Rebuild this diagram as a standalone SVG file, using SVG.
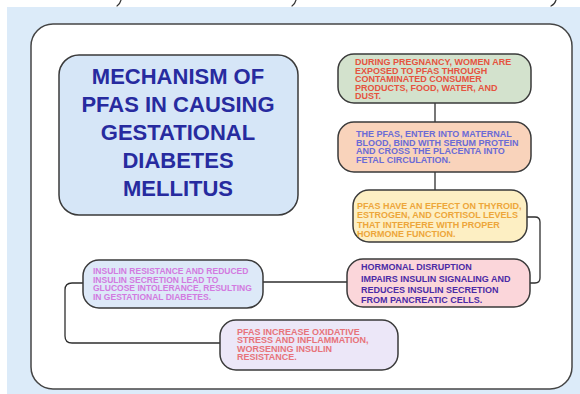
<svg xmlns="http://www.w3.org/2000/svg" width="580" height="394" viewBox="0 0 580 394">
<style>
.nd{stroke:#3a3a3a;stroke-width:1.5}
.t{font-family:"Liberation Sans",Arial,sans-serif;font-weight:bold;font-size:9px}
.ttl{font-family:"Liberation Sans",Arial,sans-serif;font-weight:bold;font-size:22px;fill:#272b9f;text-anchor:middle}
.cn{fill:none;stroke:#2e2e2e;stroke-width:1.3}
.mk{fill:none;stroke:#333;stroke-width:1.2;stroke-linecap:round}
</style>
<rect x="0" y="0" width="580" height="394" fill="#ffffff"/>
<rect x="7" y="7" width="573" height="387" fill="#dcebf9"/>
<g id="marks">
<path class="mk" d="M121 0 Q120 4 117 6"/>
<path class="mk" d="M296 0 Q295 4 292 6"/>
<path class="mk" d="M556 0 Q555 4 551 6"/>
</g>
<rect id="frame" x="31" y="24" width="541" height="365" rx="22" fill="#ffffff" stroke="#454545" stroke-width="1.5"/>
<g id="connectors">
<path class="cn" d="M435 103 V122"/>
<path class="cn" d="M435 172 V190"/>
<path class="cn" d="M527 217 H535 Q540 217 540 222 V278 Q540 283 535 283 H530"/>
<path class="cn" d="M347 282 H263"/>
<path class="cn" d="M83 283 H72 Q65 283 65 290 V336 Q65 343 72 343 H220"/>
</g>
<g id="title">
<rect class="nd" x="59" y="55" width="239" height="160" rx="20" fill="#d6e6f7"/>
<text class="ttl"><tspan x="178" y="84">MECHANISM OF</tspan><tspan x="178" y="112">PFAS IN CAUSING</tspan><tspan x="178" y="140">GESTATIONAL</tspan><tspan x="178" y="168">DIABETES</tspan><tspan x="178" y="196">MELLITUS</tspan></text>
</g>
<g id="n1">
<rect class="nd" x="338" y="54" width="193" height="49" rx="16" fill="#d3e2cd"/>
<text class="t" fill="#e5533f"><tspan x="355" y="65">DURING PREGNANCY, WOMEN ARE</tspan><tspan x="355" y="73.5">EXPOSED TO PFAS THROUGH</tspan><tspan x="355" y="82">CONTAMINATED CONSUMER</tspan><tspan x="355" y="90.5">PRODUCTS, FOOD, WATER, AND</tspan><tspan x="355" y="99">DUST.</tspan></text>
</g>
<g id="n2">
<rect class="nd" x="338" y="122" width="193" height="50" rx="16" fill="#f9d3bb"/>
<text class="t" fill="#6b6bd6"><tspan x="356" y="137">THE PFAS, ENTER INTO MATERNAL</tspan><tspan x="356" y="145.5">BLOOD, BIND WITH SERUM PROTEIN</tspan><tspan x="356" y="154">AND CROSS THE PLACENTA INTO</tspan><tspan x="356" y="162.5">FETAL CIRCULATION.</tspan></text>
</g>
<g id="n3">
<rect class="nd" x="353" y="190" width="174" height="52" rx="16" fill="#fdefc3"/>
<text class="t" fill="#eda63a"><tspan x="357" y="209">PFAS HAVE AN EFFECT ON THYROID,</tspan><tspan x="357" y="218">ESTROGEN, AND CORTISOL LEVELS</tspan><tspan x="357" y="227.5">THAT INTERFERE WITH PROPER</tspan><tspan x="357" y="236.5">HORMONE FUNCTION.</tspan></text>
</g>
<g id="n4">
<rect class="nd" x="347" y="259" width="183" height="48" rx="16" fill="#fbd6da"/>
<text class="t" fill="#4b2ba6"><tspan x="361" y="270">HORMONAL DISRUPTION</tspan><tspan x="361" y="281.5">IMPAIRS INSULIN SIGNALING AND</tspan><tspan x="361" y="292.5">REDUCES INSULIN SECRETION</tspan><tspan x="361" y="303">FROM PANCREATIC CELLS.</tspan></text>
</g>
<g id="n5">
<rect class="nd" x="83" y="260" width="180" height="48" rx="16" fill="#dde9f8"/>
<text class="t" fill="#d27ae0" style="font-size:8.5px"><tspan x="93" y="274">INSULIN RESISTANCE AND REDUCED</tspan><tspan x="93" y="282.5">INSULIN SECRETION LEAD TO</tspan><tspan x="93" y="291">GLUCOSE INTOLERANCE, RESULTING</tspan><tspan x="93" y="299.5">IN GESTATIONAL DIABETES.</tspan></text>
</g>
<g id="n6">
<rect class="nd" x="220" y="320" width="178" height="50" rx="16" fill="#ece7f8"/>
<text class="t" fill="#e7737a"><tspan x="237" y="334.5">PFAS INCREASE OXIDATIVE</tspan><tspan x="237" y="343">STRESS AND INFLAMMATION,</tspan><tspan x="237" y="351.5">WORSENING INSULIN</tspan><tspan x="237" y="360">RESISTANCE.</tspan></text>
</g>
</svg>
